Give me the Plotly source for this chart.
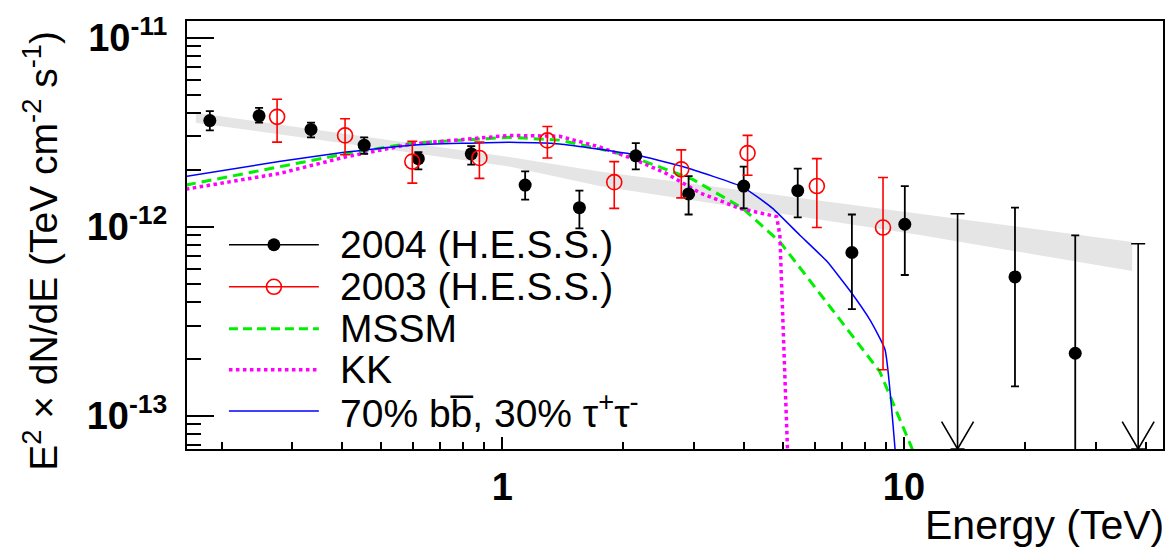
import plotly.graph_objects as go
import numpy as np

# ---------------- data ----------------
# 2004 H.E.S.S. points (energy TeV, E^2 dN/dE, upper and lower error bounds)
e04 = [0.187, 0.248, 0.334, 0.453, 0.618, 0.837, 1.14, 1.556, 2.15, 2.91, 3.99, 5.44, 7.42, 10.05, 18.9, 26.7]
f04 = [3.64e-12, 3.86e-12, 3.27e-12, 2.70e-12, 2.29e-12, 2.43e-12, 1.66e-12, 1.26e-12, 2.37e-12, 1.49e-12,
       1.64e-12, 1.55e-12, 7.3e-13, 1.03e-12, 5.42e-13, 2.14e-13]
f04_hi = [4.09e-12, 4.25e-12, 3.55e-12, 2.97e-12, 2.48e-12, 2.67e-12, 1.96e-12, 1.55e-12, 2.77e-12, 1.85e-12,
          2.08e-12, 2.03e-12, 1.16e-12, 1.64e-12, 1.26e-12, 9.0e-13]
f04_lo = [3.23e-12, 3.55e-12, 2.97e-12, 2.43e-12, 2.01e-12, 2.13e-12, 1.39e-12, 0.98e-12, 2.01e-12, 1.16e-12,
          1.25e-12, 1.12e-12, 3.66e-13, 5.55e-13, 1.43e-13, 1e-15]
# 2004 upper limits
e04_ul = [13.6, 38.3]
f04_ul = [1.17e-12, 8.13e-13]

# 2003 H.E.S.S. points
e03 = [0.275, 0.406, 0.597, 0.877, 1.295, 1.90, 2.79, 4.08, 6.07, 8.87]
f03 = [3.81e-12, 3.04e-12, 2.21e-12, 2.31e-12, 2.86e-12, 1.72e-12, 2.01e-12, 2.45e-12, 1.64e-12, 0.99e-12]
f03_hi = [4.72e-12, 3.72e-12, 2.83e-12, 2.80e-12, 3.39e-12, 2.21e-12, 2.55e-12, 3.04e-12, 2.29e-12, 1.82e-12]
f03_lo = [2.80e-12, 2.40e-12, 1.70e-12, 1.80e-12, 2.31e-12, 1.25e-12, 1.42e-12, 1.87e-12, 0.99e-12, 1.75e-13]

# power-law fit band
band_e = [0.1726, 1.041, 1.746, 10.96, 37.0]
band_hi = [4.0e-12, 2.34e-12, 1.96e-12, 1.175e-12, 8.31e-13]
band_lo = [3.55e-12, 2.08e-12, 1.64e-12, 9.04e-13, 5.82e-13]

# model curves
mix_e = [0.163, 0.278, 0.408, 0.596, 1.041, 1.388, 2.146, 2.81, 3.97, 4.71, 5.50, 6.43, 7.34, 8.23, 8.97, 9.55]
mix_f = [1.845e-12, 2.21e-12, 2.48e-12, 2.70e-12, 2.80e-12, 2.74e-12, 2.40e-12, 2.08e-12, 1.62e-12,
         1.25e-12, 9.04e-13, 6.56e-13, 4.58e-13, 3.21e-13, 2.24e-13, 5.85e-14]
mssm_e = [0.163, 0.278, 0.408, 0.596, 1.041, 1.388, 1.746, 2.11, 2.98, 3.97, 4.91, 6.65, 8.71, 10.71]
mssm_f = [1.66e-12, 2.08e-12, 2.43e-12, 2.77e-12, 2.97e-12, 2.87e-12, 2.58e-12, 2.34e-12, 1.78e-12,
          1.25e-12, 8.32e-13, 3.61e-13, 1.71e-13, 6.0e-14]
kk_e = [0.163, 0.278, 0.408, 0.596, 1.041, 1.388, 1.746, 2.11, 2.565, 3.10, 3.90, 4.82, 4.91, 4.96, 5.14]
kk_f = [1.58e-12, 1.91e-12, 2.34e-12, 2.74e-12, 3.04e-12, 3.01e-12, 2.64e-12, 2.29e-12, 1.91e-12,
        1.51e-12, 1.25e-12, 1.13e-12, 9.04e-13, 4.58e-13, 5.85e-14]

legend_labels = ["2004 (H.E.S.S.)", "2003 (H.E.S.S.)", "MSSM", "KK",
                 "70% bb\u0305, 30% \u03c4<sup>+</sup>\u03c4<sup>-</sup>"]

x_tickvals = [1, 10]
x_ticktext = ["1", "10"]
y_tickvals = [1e-13, 1e-12, 1e-11]
y_ticktext = ["10<sup>-13</sup>", "10<sup>-12</sup>", "10<sup>-11</sup>"]

# ---------------- layout constants ----------------
XR = [-0.785, 1.645]
YR = [-13.176, -10.912]
FONT = "Liberation Sans, Arial, Helvetica, sans-serif"

fig = go.Figure()

# band
fig.add_trace(go.Scatter(
    x=band_e + band_e[::-1], y=band_hi + band_lo[::-1],
    fill="toself", fillcolor="#e5e5e5", line=dict(width=0), mode="lines",
    hoverinfo="skip", showlegend=False))

GREEN = "#00f000"
# curves
fig.add_trace(go.Scatter(x=mssm_e, y=mssm_f, mode="lines",
                         line=dict(color=GREEN, width=3, dash="10px,6px"), showlegend=False))
fig.add_trace(go.Scatter(x=kk_e, y=kk_f, mode="lines",
                         line=dict(color="#ff00ff", width=3.5, dash="3.5px,3.5px"), showlegend=False))
fig.add_trace(go.Scatter(x=mix_e, y=mix_f, mode="lines", line_shape="spline",
                         line=dict(color="#0000ff", width=1.5, smoothing=0.4), showlegend=False))

# 2004 points
fig.add_trace(go.Scatter(
    x=e04, y=f04, mode="markers",
    marker=dict(symbol="circle", size=13, color="black"),
    error_y=dict(type="data", symmetric=False,
                 array=[h - v for h, v in zip(f04_hi, f04)],
                 arrayminus=[v - l for v, l in zip(f04, f04_lo)],
                 color="black", thickness=1.8, width=4),
    showlegend=False))

# upper limits: vertical line + cap
ybot = 10 ** YR[0]
fig.add_trace(go.Scatter(
    x=e04_ul, y=f04_ul, mode="markers", marker=dict(size=0.1, color="rgba(0,0,0,0)"),
    error_y=dict(type="data", symmetric=False, array=[0 for _ in f04_ul],
                 arrayminus=[v - ybot for v in f04_ul], color="black", thickness=1.6, width=7),
    showlegend=False))
# arrow heads (open V at the axis)
dx = 16 / 402.0
dy = 28 / 193.5
ax_x, ax_y = [], []
for e in e04_ul:
    ax_x += [e * 10 ** (-dx), e, e * 10 ** dx, None]
    ax_y += [10 ** (YR[0] + dy), ybot * 1.0005, 10 ** (YR[0] + dy), None]
fig.add_trace(go.Scatter(x=ax_x, y=ax_y, mode="lines", line=dict(color="black", width=1.6),
                         showlegend=False, cliponaxis=False))

# 2003 points
fig.add_trace(go.Scatter(
    x=e03, y=f03, mode="markers",
    marker=dict(symbol="circle-open", size=15, color="red", line=dict(width=1.6, color="red")),
    error_y=dict(type="data", symmetric=False,
                 array=[h - v for h, v in zip(f03_hi, f03)],
                 arrayminus=[v - l for v, l in zip(f03, f03_lo)],
                 color="red", thickness=1.6, width=5),
    showlegend=False))

# ---------------- manual legend ----------------
L, R_, T, B = 187, 1164, 11, 449
W, H = R_ - L, B - T
row_px = [240, 283, 326, 368, 410]
row_y = [(B - p) / H for p in row_px]
lx0, lx1, lxm = (229 - L) / W, (319 - L) / W, (274 - L) / W
tx = (338 - L) / W

leg_styles = [
    dict(line=dict(color="black", width=1.6), marker=dict(symbol="circle", size=13, color="black")),
    dict(line=dict(color="red", width=1.6), marker=dict(symbol="circle-open", size=15, color="red", line=dict(width=1.6, color="red"))),
    dict(line=dict(color=GREEN, width=3, dash="9px,5px")),
    dict(line=dict(color="#ff00ff", width=3.5, dash="3.5px,3.5px")),
    dict(line=dict(color="#0000ff", width=1.5)),
]
for i, st in enumerate(leg_styles):
    fig.add_trace(go.Scatter(x=[lx0, lx1], y=[row_y[i]] * 2, mode="lines", line=st["line"],
                             xaxis="x2", yaxis="y2", showlegend=False, hoverinfo="skip"))
    if "marker" in st:
        fig.add_trace(go.Scatter(x=[lxm], y=[row_y[i]], mode="markers", marker=st["marker"],
                                 xaxis="x2", yaxis="y2", showlegend=False, hoverinfo="skip"))
    fig.add_annotation(x=tx, y=row_y[i], xref="paper", yref="paper", text=legend_labels[i],
                       showarrow=False, xanchor="left", yanchor="middle",
                       font=dict(family=FONT, size=39, color="black"))

# axis titles
fig.add_annotation(x=(40 - L) / W, y=(B - 246) / H, xref="paper", yref="paper",
                   text="E<sup>2</sup> \u00d7 dN/dE (TeV cm<sup>-2</sup> s<sup>-1</sup>)",
                   textangle=-90, showarrow=False, xanchor="center", yanchor="middle",
                   font=dict(family=FONT, size=39, color="black"))
fig.add_annotation(x=(1167 - L) / W, y=(B - 527) / H, xref="paper", yref="paper",
                   text="Energy (TeV)", showarrow=False, xanchor="right", yanchor="middle",
                   font=dict(family=FONT, size=41, color="black"))

# minor ticks
x_minor = [m * 10 ** d for d in range(-1, 2) for m in range(2, 10)]
y_minor = [m * 10 ** d for d in range(-14, -10) for m in range(2, 10)]

fig.update_layout(
    width=1176, height=556,
    margin=dict(l=L, r=1176 - R_, t=T, b=556 - B),
    paper_bgcolor="white", plot_bgcolor="white",
    showlegend=False,
    font=dict(family=FONT, color="black"),
    xaxis=dict(type="log", range=XR, showgrid=False, zeroline=False,
               showline=True, linecolor="black", linewidth=2, mirror=True,
               ticks="inside", ticklen=12, tickwidth=1.5, tickcolor="black",
               tickmode="array", tickvals=x_tickvals, ticktext=x_ticktext,
               tickfont=dict(family=FONT, size=38, color="black", weight="bold"),
               ticklabelstandoff=3,
               minor=dict(tickmode="array", tickvals=x_minor, ticks="inside", ticklen=7,
                          tickwidth=1.5, tickcolor="black", showgrid=False)),
    yaxis=dict(type="log", range=YR, showgrid=False, zeroline=False,
               showline=True, linecolor="black", linewidth=2, mirror=True,
               ticks="inside", ticklen=27, tickwidth=1.5, tickcolor="black",
               tickmode="array", tickvals=y_tickvals, ticktext=y_ticktext,
               tickfont=dict(family=FONT, size=38, color="black", weight="bold"),
               ticklabelstandoff=10,
               minor=dict(tickmode="array", tickvals=y_minor, ticks="inside", ticklen=14,
                          tickwidth=1.5, tickcolor="black", showgrid=False)),
    xaxis2=dict(overlaying="x", range=[0, 1], visible=False, anchor="y2", fixedrange=True),
    yaxis2=dict(overlaying="y", range=[0, 1], visible=False, anchor="x2", fixedrange=True),
)

fig.write_html("out.html")
